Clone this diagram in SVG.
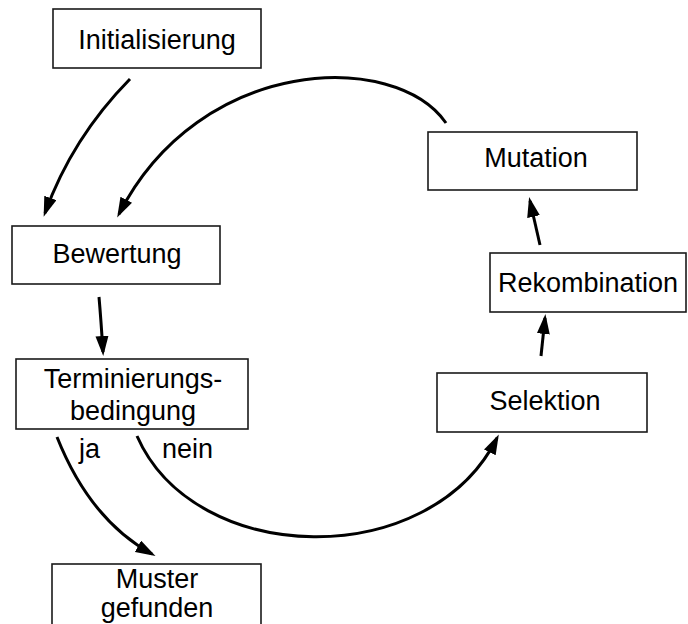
<svg xmlns="http://www.w3.org/2000/svg" width="688" height="624" viewBox="0 0 688 624">
<style>
.box{fill:#fff;stroke:#1a1a1a;stroke-width:1.6}
.t{font-family:"Liberation Sans",Arial,sans-serif;font-size:27px;fill:#000;text-anchor:middle}
.l{font-family:"Liberation Sans",Arial,sans-serif;font-size:27px;fill:#000}
.c{fill:none;stroke:#000;stroke-width:3;marker-end:url(#ah)}
</style>
<defs>
<marker id="ah" markerUnits="userSpaceOnUse" markerWidth="22" markerHeight="14" refX="16" refY="6.5" orient="auto">
<path d="M0,0 L20,6.5 L0,13 Z" fill="#000"/>
</marker>
</defs>
<rect width="688" height="624" fill="#fff"/>
<g id="initialisierung"><rect class="box" x="53" y="9" width="208" height="59"/><text class="t" x="157" y="49">Initialisierung</text></g>
<g id="bewertung"><rect class="box" x="12" y="226" width="208" height="58"/><text class="t" x="117" y="263">Bewertung</text></g>
<g id="terminierung"><rect class="box" x="16" y="359" width="232" height="70"/><text class="t" x="133" y="388">Terminierungs-</text><text class="t" x="133" y="420">bedingung</text></g>
<g id="muster"><rect class="box" x="52" y="564" width="209" height="70"/><text class="t" x="157" y="588">Muster</text><text class="t" x="157" y="617">gefunden</text></g>
<g id="mutation"><rect class="box" x="428" y="132" width="209" height="58"/><text class="t" x="536" y="167">Mutation</text></g>
<g id="rekombination"><rect class="box" x="490" y="253" width="196" height="59"/><text class="t" x="588" y="292">Rekombination</text></g>
<g id="selektion"><rect class="box" x="437" y="373" width="210" height="59"/><text class="t" x="545" y="410">Selektion</text></g>
<g id="connectors">
<path class="c" d="M130,79 Q72,138 45,213"/>
<path class="c" d="M446,123 C395,50 200,55 119,214"/>
<path class="c" d="M99,297 Q101,320 103,352"/>
<path class="c" d="M57,437 Q90,520 152,554"/>
<path class="c" d="M137,436 C195,568 430,572 497,438"/>
<path class="c" d="M541,356 L545,318"/>
<path class="c" d="M540,245 L530,201"/>
<text class="l" x="79" y="458">ja</text>
<text class="l" x="162" y="458">nein</text>
</g>
</svg>
